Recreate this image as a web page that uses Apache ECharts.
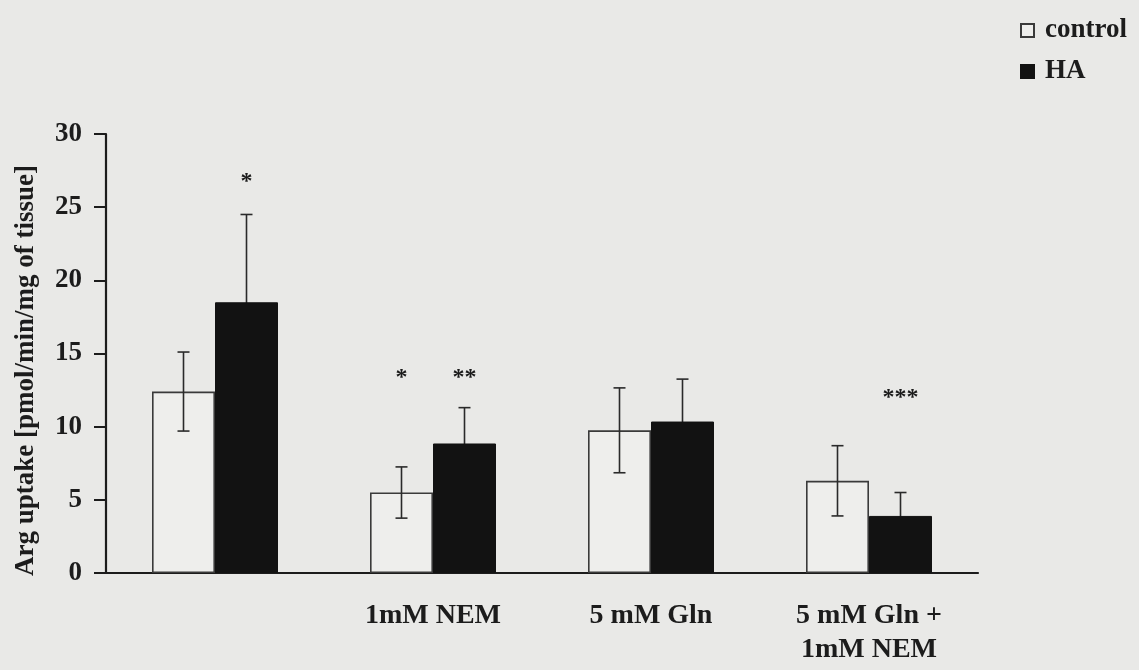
<!DOCTYPE html>
<html>
<head>
<meta charset="utf-8">
<script src="https://cdn.jsdelivr.net/npm/echarts@6/dist/echarts.min.js"></script>
<style>
  html, body { margin: 0; padding: 0; background: #e9e9e7; }
  #chart { width: 1139px; height: 670px; }
</style>
</head>
<body>
<div id="chart"></div>
<script>
// Arginine uptake, control vs HA, per treatment condition
const categories = ['', '1mM NEM', '5 mM Gln', '5 mM Gln +\n1mM NEM'];
const controlMean = [12.4, 5.5, 9.75, 6.3];
const controlErr = [2.7, 1.75, 2.9, 2.4];
const haMean = [18.5, 8.85, 10.35, 3.9];
const haErr = [6.0, 2.45, 2.9, 1.6];
// significance marks and the height (in axis units) at which they sit
const controlSig = ['', '*', '', ''];
const haSig = ['*', '**', '', '***'];
const sigLevel = [27.1, 13.7, 0, 12.3];
const yTicks = [0, 5, 10, 15, 20, 25, 30];

const SERIF = '"Liberation Serif", "Times New Roman", serif';
const INK = '#1c1c1c';
const BAR_W = 63;

function errorBars(side) {
  return function (params, api) {
    const i = api.value(0);
    const mean = api.value(1);
    const err = api.value(2);
    const x = api.coord([i, mean])[0] + side * BAR_W / 2;
    const yTop = api.coord([i, mean + err])[1];
    const yBot = api.coord([i, mean - err])[1];
    const cap = 6;
    const style = { stroke: '#2a2a2a', lineWidth: 1.6 };
    return {
      type: 'group',
      children: [
        { type: 'line', shape: { x1: x, y1: yTop, x2: x, y2: yBot }, style },
        { type: 'line', shape: { x1: x - cap, y1: yTop, x2: x + cap, y2: yTop }, style },
        { type: 'line', shape: { x1: x - cap, y1: yBot, x2: x + cap, y2: yBot }, style }
      ]
    };
  };
}

function sigMarks(marks, side) {
  return function (params, api) {
    const i = api.value(0);
    const text = marks[i];
    if (!text) return null;
    const p = api.coord([i, api.value(1)]);
    return {
      type: 'text',
      style: {
        text: text,
        x: p[0] + side * BAR_W / 2,
        y: p[1] + 5,
        textAlign: 'center',
        textVerticalAlign: 'middle',
        font: 'bold 24px ' + SERIF,
        fill: INK
      }
    };
  };
}

const option = {
  backgroundColor: '#e9e9e7',
  animation: false,
  grid: { left: 106, right: 161, top: 134, bottom: 97 },
  legend: {
    orient: 'vertical',
    left: 1015,
    top: 12,
    icon: 'rect',
    itemWidth: 13,
    itemHeight: 13,
    itemGap: 14,
    data: ['control', 'HA'],
    textStyle: {
      fontFamily: SERIF,
      fontWeight: 'bold',
      fontSize: 27,
      color: INK,
      padding: [0, 0, 0, 6]
    }
  },
  xAxis: {
    type: 'category',
    data: categories,
    axisLine: { lineStyle: { color: INK, width: 2.2 } },
    axisTick: { show: false },
    axisLabel: {
      margin: 26,
      fontFamily: SERIF,
      fontWeight: 'bold',
      fontSize: 28,
      lineHeight: 34,
      color: INK
    }
  },
  yAxis: {
    type: 'value',
    min: yTicks[0],
    max: yTicks[yTicks.length - 1],
    interval: 5,
    name: 'Arg uptake [pmol/min/mg of tissue]',
    nameLocation: 'middle',
    nameGap: 66,
    nameTextStyle: {
      fontFamily: SERIF,
      fontWeight: 'bold',
      fontSize: 27,
      color: INK,
      padding: [0, 34, 0, 0]
    },
    axisLine: { show: true, lineStyle: { color: INK, width: 2.2 } },
    axisTick: { show: true, length: 12, lineStyle: { color: INK, width: 2 } },
    splitLine: { show: false },
    axisLabel: {
      margin: 24,
      fontFamily: SERIF,
      fontWeight: 'bold',
      fontSize: 27,
      color: INK
    }
  },
  series: [
    {
      name: 'control',
      type: 'bar',
      barWidth: BAR_W,
      barGap: '0%',
      data: controlMean,
      itemStyle: { color: '#eeeeec', borderColor: '#3a3a3a', borderWidth: 1.6 }
    },
    {
      name: 'HA',
      type: 'bar',
      barWidth: BAR_W,
      barGap: '0%',
      data: haMean,
      itemStyle: { color: '#121212', borderColor: '#121212', borderWidth: 1 }
    },
    {
      type: 'custom',
      renderItem: errorBars(-1),
      data: controlMean.map((m, i) => [i, m, controlErr[i]]),
      encode: { x: 0, y: 1 },
      z: 5
    },
    {
      // drawn beneath the bars so only the upper whisker shows above the dark fill
      type: 'custom',
      renderItem: errorBars(1),
      data: haMean.map((m, i) => [i, m, haErr[i]]),
      encode: { x: 0, y: 1 },
      z: 1
    },
    {
      type: 'custom',
      renderItem: sigMarks(controlSig, -1),
      data: sigLevel.map((v, i) => [i, v]),
      encode: { x: 0, y: 1 },
      z: 6
    },
    {
      type: 'custom',
      renderItem: sigMarks(haSig, 1),
      data: sigLevel.map((v, i) => [i, v]),
      encode: { x: 0, y: 1 },
      z: 6
    }
  ]
};

const chart = echarts.init(document.getElementById('chart'), null, { renderer: 'canvas' });
chart.setOption(option);
</script>
</body>
</html>
